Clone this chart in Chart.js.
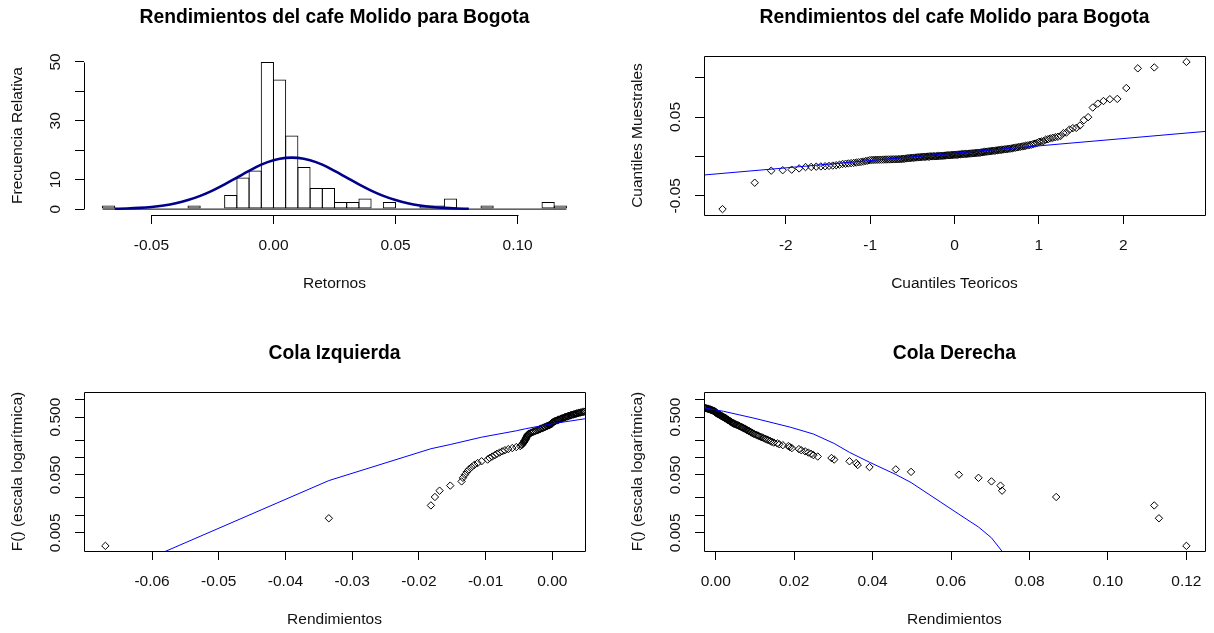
<!DOCTYPE html>
<html><head><meta charset="utf-8">
<script src="https://cdn.jsdelivr.net/npm/chart.js@4.4.1/dist/chart.umd.min.js"></script>
<style>
html,body{margin:0;padding:0;background:#fff;}
body{width:1214px;height:633px;position:relative;overflow:hidden;}
canvas{position:absolute;display:block;}
</style></head><body>
<canvas id="c1" width="607" height="316" style="left:0;top:0;width:607px;height:316px"></canvas>
<canvas id="c2" width="594" height="316" style="left:620px;top:0;width:594px;height:316px"></canvas>
<canvas id="c3" width="607" height="297" style="left:0;top:336px;width:607px;height:297px"></canvas>
<canvas id="c4" width="594" height="297" style="left:620px;top:336px;width:594px;height:297px"></canvas>
<script>
// ---------------- data ----------------
const returns = [
 -0.0670, -0.0335, -0.0182, -0.0176, -0.0169, -0.0153,
 -0.0136, -0.0134, -0.0131, -0.0128, -0.0125, -0.0121, -0.0117, -0.0112, -0.0106,
 -0.0097, -0.0094, -0.0090, -0.0086, -0.0083, -0.0079, -0.0075, -0.0071, -0.0066, -0.0060, -0.0054,
 -0.0048, -0.0046, -0.0045, -0.0044, -0.0043, -0.0042, -0.0042, -0.0041, -0.0040, -0.0040, -0.0039, -0.0039,
 -0.0038, -0.0038, -0.0037, -0.0037, -0.0036, -0.0035,
 -0.0033, -0.0031, -0.0029, -0.0027, -0.0025, -0.0023, -0.0021, -0.0019, -0.0018, -0.0016, -0.0014, -0.0013,
 -0.0011, -0.0010, -0.0008, -0.0007, -0.0005, -0.0004, -0.0003, -0.0002, -0.0001, 0.0000, 0.0000, 0.0000,
 0.0001, 0.0002, 0.0003, 0.0004, 0.0005, 0.0007, 0.0008, 0.0009, 0.0010, 0.0012, 0.0013, 0.0014, 0.0015,
 0.0017, 0.0018, 0.0019, 0.0020, 0.0022, 0.0023, 0.0024, 0.0025, 0.0027, 0.0028, 0.0029, 0.0031, 0.0032,
 0.0033, 0.0035, 0.0036, 0.0037, 0.0039, 0.0040, 0.0042, 0.0043, 0.0045, 0.0047, 0.0049,
 0.0052, 0.0054, 0.0057, 0.0059, 0.0061, 0.0063, 0.0066, 0.0068, 0.0070, 0.0072, 0.0075, 0.0077, 0.0079,
 0.0081, 0.0084, 0.0086, 0.0089, 0.0091, 0.0094, 0.0096, 0.0099,
 0.0103, 0.0107, 0.0110, 0.0114, 0.0118, 0.0122, 0.0126, 0.0130, 0.0134, 0.0139, 0.0143, 0.0148,
 0.0157, 0.0162, 0.0171, 0.0185, 0.0189, 0.0194,
 0.0212, 0.0218, 0.0228, 0.0236, 0.0243, 0.0249,
 0.0260, 0.0295, 0.0302, 0.0341, 0.0358, 0.0362, 0.0392, 0.0459, 0.0498,
 0.0620, 0.0670, 0.0703, 0.0726, 0.0730, 0.0868, 0.1118, 0.1130, 0.1200
];
const binStart = -0.07, binWidth = 0.005, binCount = 38;

// fitted normal density over the histogram
const curveX = [-0.065,-0.060,-0.055,-0.050,-0.045,-0.040,-0.035,-0.030,-0.025,-0.020,-0.015,-0.010,-0.005,0.000,0.005,
                0.010,0.015,0.020,0.025,0.030,0.035,0.040,0.045,0.050,0.055,0.060,0.065,0.070,0.075,0.080];
const curveY = [0.11,0.22,0.41,0.73,1.24,2.0,3.08,4.5,6.3,8.4,10.7,13.0,15.1,16.6,17.4,
                17.4,16.6,15.1,13.0,10.7,8.4,6.3,4.5,3.08,2.0,1.24,0.73,0.41,0.22,0.11];

// qq line end points
const qqLineX = [-3.2, 3.2];
const qqLineY = [-0.0258, 0.0338];

// fitted normal cdf lines of the tail plots
const leftFitX = [-0.0670, -0.0335, -0.0182, -0.0153, -0.0106, -0.0054, -0.0040, 0.0000, 0.0050, 0.0100];
const leftFitF = [0.00085, 0.040, 0.142, 0.168, 0.225, 0.290, 0.315, 0.384, 0.470, 0.550];
const rightFitX = [-0.0060, -0.0030, 0.0020, 0.0100, 0.0190, 0.0249, 0.0302, 0.0341, 0.0392, 0.0459, 0.0498, 0.0620, 0.0670, 0.0703, 0.0730, 0.0868];
const rightFitF = [0.77, 0.72, 0.63, 0.475, 0.335, 0.255, 0.175, 0.123, 0.083, 0.051, 0.037, 0.0105, 0.0063, 0.0041, 0.0024, 0.0002];

// ticks
const histXTicks = [-0.05, 0, 0.05, 0.10];        const histXLabels = ['-0.05','0.00','0.05','0.10'];
const histYTicks = [0, 10, 20, 30, 40, 50];       const histYLabels = ['0','10','','30','','50'];
const qqXTicks = [-2, -1, 0, 1, 2];               const qqXLabels = ['-2','-1','0','1','2'];
const qqYTicks = [-0.05, 0, 0.05, 0.10];          const qqYLabels = ['-0.05','','0.05',''];
const leftXTicks = [-0.06,-0.05,-0.04,-0.03,-0.02,-0.01,0];
const leftXLabels = ['-0.06','-0.05','-0.04','-0.03','-0.02','-0.01','0.00'];
const rightXTicks = [0,0.02,0.04,0.06,0.08,0.10,0.12];
const rightXLabels = ['0.00','0.02','0.04','0.06','0.08','0.10','0.12'];
const logTicks = [0.005,0.01,0.02,0.05,0.1,0.2,0.5,1];
const logLabels = ['0.005','','','0.050','','','0.500',''];

// ---------------- layout / style ----------------
const FONT = "'Liberation Sans', Arial, Helvetica, sans-serif";
const TXT = '#111';
const TICK_FS = 15.5, TITLE_FS = 19.3;
const PLOT = {left: 84, top: 56, right: 585, bottom: 215};
const TITLE_Y = 18, XLAB_Y = 283.5, YLAB_X = 18, XTICK_Y = 245.5, YTICK_X = 56, TICK_LEN = 9;

Chart.defaults.font.family = FONT;
Chart.defaults.color = TXT;

const mctx = document.createElement('canvas').getContext('2d');
function widest(labels){ mctx.font = TICK_FS + 'px ' + FONT; return Math.max(...labels.map(s => mctx.measureText(s).width)); }

function qnorm(p){
  const a=[-3.969683028665376e+01,2.209460984245205e+02,-2.759285104469687e+02,1.383577518672690e+02,-3.066479806614716e+01,2.506628277459239e+00];
  const b=[-5.447609879822406e+01,1.615858368580409e+02,-1.556989798598866e+02,6.680131188771972e+01,-1.328068155288572e+01];
  const c=[-7.784894002430293e-03,-3.223964580411365e-01,-2.400758277161838e+00,-2.549732539343734e+00,4.374664141464968e+00,2.938163982698783e+00];
  const d=[7.784695709041462e-03,3.224671290700398e-01,2.445134137142996e+00,3.754408661907416e+00];
  const pl=0.02425; let q,r;
  if(p<pl){q=Math.sqrt(-2*Math.log(p));return (((((c[0]*q+c[1])*q+c[2])*q+c[3])*q+c[4])*q+c[5])/((((d[0]*q+d[1])*q+d[2])*q+d[3])*q+1);}
  if(p<=1-pl){q=p-0.5;r=q*q;return (((((a[0]*r+a[1])*r+a[2])*r+a[3])*r+a[4])*r+a[5])*q/(((((b[0]*r+b[1])*r+b[2])*r+b[3])*r+b[4])*r+1);}
  q=Math.sqrt(-2*Math.log(1-p));return -(((((c[0]*q+c[1])*q+c[2])*q+c[3])*q+c[4])*q+c[5])/((((d[0]*q+d[1])*q+d[2])*q+d[3])*q+1);
}

function xAxis(o){
  const lh = TICK_FS * 1.2;
  return {
    type: o.type || 'linear', min: o.min, max: o.max, bounds: 'data', offset: false, position: 'bottom',
    afterBuildTicks: ax => { ax.ticks = o.ticks.map(v => ({value: v})); },
    afterFit: ax => { ax.height = o.H - PLOT.bottom; },
    grid: {display: true, drawOnChartArea: false, drawTicks: true, tickLength: TICK_LEN, color: '#000', lineWidth: 1, offset: false},
    border: {display: false},
    ticks: {autoSkip: false, minRotation: 0, maxRotation: 0, padding: XTICK_Y - PLOT.bottom - TICK_LEN - lh/2,
            color: TXT, font: {size: TICK_FS}, callback: (v, i) => o.labels[i]},
    title: {display: true, text: o.title, color: TXT, font: {size: TICK_FS}, padding: {top: 0, bottom: o.H - XLAB_Y - lh/2}}
  };
}
function yAxis(o){
  const lh = TICK_FS * 1.2;
  const w = widest(o.labels);
  return {
    type: o.type || 'linear', min: o.min, max: o.max, bounds: 'data', position: 'left',
    afterBuildTicks: ax => { ax.ticks = o.ticks.map(v => ({value: v})); },
    afterFit: ax => { ax.width = PLOT.left; },
    grid: {display: true, drawOnChartArea: false, drawTicks: true, tickLength: TICK_LEN, color: '#000', lineWidth: 1, offset: false},
    border: {display: false},
    ticks: {autoSkip: false, minRotation: 90, maxRotation: 90, crossAlign: 'center',
            padding: PLOT.left - TICK_LEN - w/2 - YTICK_X,
            color: TXT, font: {size: TICK_FS}, callback: (v, i) => o.labels[i]},
    title: {display: true, text: o.title, color: TXT, font: {size: TICK_FS}, padding: {top: YLAB_X - lh/2, bottom: 0}}
  };
}
function titleOpts(text){
  const lh = TITLE_FS * 1.2;
  return {display: true, text, fullSize: false, color: '#000', font: {size: TITLE_FS, weight: 'bold'},
          padding: {top: TITLE_Y - lh/2, bottom: PLOT.top - TITLE_Y - lh/2}};
}
const framePlugin = {
  id: 'frame',
  afterDraw(chart, args, o){
    const {ctx, chartArea: a, scales} = chart;
    ctx.save(); ctx.strokeStyle = '#000'; ctx.lineWidth = 1; ctx.beginPath();
    const L = Math.round(a.left) + 0.5, R = Math.round(a.right) + 0.5, T = Math.round(a.top) + 0.5, B = Math.round(a.bottom) + 0.5;
    if (o.mode === 'box') {
      ctx.rect(L, T, R - L, B - T);
    } else if (o.mode === 'axes') {
      ctx.moveTo(L, Math.round(scales.y.getPixelForValue(o.yFrom)) + 0.5);
      ctx.lineTo(L, Math.round(scales.y.getPixelForValue(o.yTo)) + 0.5);
      ctx.moveTo(Math.round(scales.x.getPixelForValue(o.xFrom)) + 0.5, B);
      ctx.lineTo(Math.round(scales.x.getPixelForValue(o.xTo)) + 0.5, B);
    }
    ctx.stroke(); ctx.restore();
  }
};
function baseOptions(W, H, title, scales, frame){
  return {
    responsive: false, animation: false, devicePixelRatio: 1, events: [],
    layout: {padding: {left: 0, top: 0, right: W - PLOT.right, bottom: 0}},
    plugins: {legend: {display: false}, tooltip: {enabled: false}, title: titleOpts(title), frame},
    scales
  };
}
const pointDs = (data) => ({type: 'scatter', data, pointStyle: 'rectRot', pointRadius: 3.7, pointBorderWidth: 1,
  pointBorderColor: '#000', pointBackgroundColor: 'rgba(0,0,0,0)', showLine: false, clip: 0, order: 1});
const blueLine = (data) => ({type: 'line', data, borderColor: '#0000FF', borderWidth: 1, pointRadius: 0, fill: false, tension: 0, clip: 0, order: 0});

// ---------------- derived tables ----------------
const n = returns.length;
const binEdges = Array.from({length: binCount + 1}, (_, k) => Math.round((binStart + k * binWidth) * 1e6) / 1e6);
const histBars = binEdges.slice(0, -1).map((a, k) => {
  const b = binEdges[k + 1];
  const cnt = returns.filter(v => (k === 0 ? v >= a - 1e-12 : v > a + 1e-12) && v <= b + 1e-12).length;
  return {x: (a + b) / 2, y: cnt / (n * binWidth)};
});
const curvePts = curveX.map((x, i) => ({x, y: curveY[i]}));
const qqPts = returns.map((v, i) => ({x: qnorm((i + 0.5) / n), y: v}));
const leftPts = returns.map((v, i) => ({x: v, y: (i + 0.5) / n}));
const rightPts = returns.map((v, i) => ({x: v, y: (n - i - 0.5) / n}));

// ---------------- panel 1: histogram ----------------
(function(){
  const W = 607, H = 316, xmin = -0.0776, xmax = 0.1276;
  const binPx = binWidth * (PLOT.right - PLOT.left) / (xmax - xmin);
  new Chart(document.getElementById('c1'), {
    type: 'bar',
    data: {datasets: [
      {type: 'line', data: curvePts, borderColor: '#00008B', borderWidth: 2.6, pointRadius: 0, fill: false, tension: 0.35, order: 0},
      {type: 'line', data: [{x: binEdges[0], y: 0}, {x: binEdges[binCount], y: 0}], borderColor: '#000', borderWidth: 1, pointRadius: 0, order: 1},
      {type: 'bar', data: histBars, backgroundColor: 'rgba(0,0,0,0)', borderColor: '#000', borderWidth: 1, borderSkipped: false,
       barPercentage: (binPx + 1) / binPx, categoryPercentage: 1, order: 2}
    ]},
    options: baseOptions(W, H, 'Rendimientos del cafe Molido para Bogota', {
      x: xAxis({min: xmin, max: xmax, ticks: histXTicks, labels: histXLabels, H, title: 'Retornos'}),
      y: yAxis({min: -2, max: 52, ticks: histYTicks, labels: histYLabels, title: 'Frecuencia Relativa'})
    }, {mode: 'axes', xFrom: histXTicks[0], xTo: histXTicks[histXTicks.length - 1], yFrom: histYTicks[0], yTo: histYTicks[histYTicks.length - 1]}),
    plugins: [framePlugin]
  });
})();

// ---------------- panel 2: QQ plot ----------------
(function(){
  const W = 594, H = 316;
  new Chart(document.getElementById('c2'), {
    type: 'scatter',
    data: {datasets: [
      blueLine(qqLineX.map((x, i) => ({x, y: qqLineY[i]}))),
      pointDs(qqPts)
    ]},
    options: baseOptions(W, H, 'Rendimientos del cafe Molido para Bogota', {
      x: xAxis({min: -2.97, max: 2.97, ticks: qqXTicks, labels: qqXLabels, H, title: 'Cuantiles Teoricos'}),
      y: yAxis({min: -0.0745, max: 0.1275, ticks: qqYTicks, labels: qqYLabels, title: 'Cuantiles Muestrales'})
    }, {mode: 'box'}),
    plugins: [framePlugin]
  });
})();

// ---------------- panel 3: left tail ----------------
(function(){
  const W = 607, H = 297;
  new Chart(document.getElementById('c3'), {
    type: 'scatter',
    data: {datasets: [
      blueLine(leftFitX.map((x, i) => ({x, y: leftFitF[i]}))),
      pointDs(leftPts)
    ]},
    options: baseOptions(W, H, 'Cola Izquierda', {
      x: xAxis({min: -0.0702, max: 0.0049, ticks: leftXTicks, labels: leftXLabels, H, title: 'Rendimientos'}),
      y: yAxis({type: 'logarithmic', min: 0.002427, max: 1.358, ticks: logTicks, labels: logLabels, title: 'F() (escala logarítmica)'})
    }, {mode: 'box'}),
    plugins: [framePlugin]
  });
})();

// ---------------- panel 4: right tail ----------------
(function(){
  const W = 594, H = 297;
  new Chart(document.getElementById('c4'), {
    type: 'scatter',
    data: {datasets: [
      blueLine(rightFitX.map((x, i) => ({x, y: rightFitF[i]}))),
      pointDs(rightPts)
    ]},
    options: baseOptions(W, H, 'Cola Derecha', {
      x: xAxis({min: -0.0030, max: 0.1247, ticks: rightXTicks, labels: rightXLabels, H, title: 'Rendimientos'}),
      y: yAxis({type: 'logarithmic', min: 0.002427, max: 1.358, ticks: logTicks, labels: logLabels, title: 'F() (escala logarítmica)'})
    }, {mode: 'box'}),
    plugins: [framePlugin]
  });
})();
</script>
</body></html>
